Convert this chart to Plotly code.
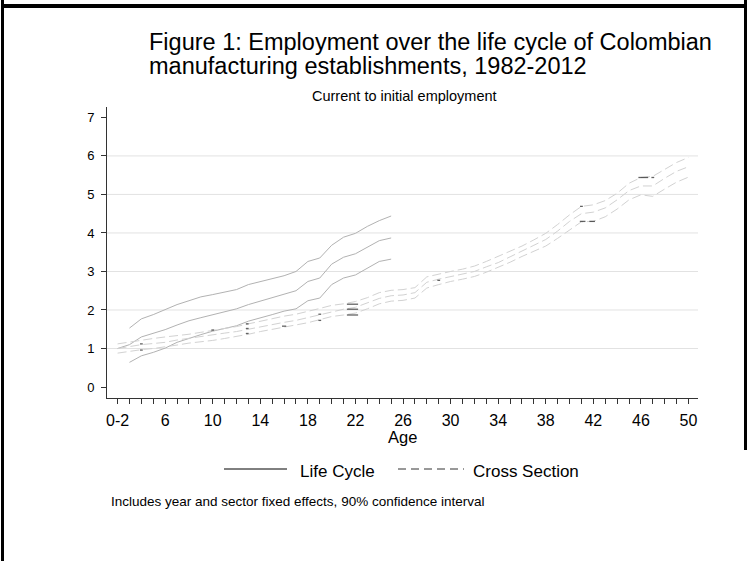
import plotly.graph_objects as go

# ---------------- data ----------------
ages_lc = list(range(2, 26))
lc_mid = [1.00, 1.10, 1.30, 1.39, 1.49, 1.61, 1.72, 1.80, 1.87, 1.96, 2.03, 2.14,
          2.23, 2.31, 2.40, 2.50, 2.74, 2.83, 3.19, 3.37, 3.46, 3.63, 3.80, 3.87]
lc_upper = [None, 1.53, 1.77, 1.88, 2.01, 2.14, 2.24, 2.34, 2.40, 2.46, 2.53, 2.66,
            2.74, 2.81, 2.89, 3.00, 3.26, 3.35, 3.68, 3.89, 3.99, 4.17, 4.32, 4.44]
lc_lower = [None, 0.64, 0.81, 0.90, 1.01, 1.16, 1.27, 1.36, 1.45, 1.53, 1.59, 1.71,
            1.79, 1.88, 1.97, 2.03, 2.24, 2.31, 2.66, 2.83, 2.91, 3.09, 3.26, 3.32]

ages_cs = list(range(2, 51))
cs_mid = [1.00, 1.05, 1.10, 1.13, 1.16, 1.22, 1.27, 1.30, 1.35, 1.40, 1.44, 1.50,
          1.57, 1.63, 1.68, 1.73, 1.80, 1.88, 1.96, 2.02, 2.07, 2.18, 2.30, 2.37,
          2.39, 2.45, 2.72, 2.80, 2.87, 2.93, 3.00, 3.12, 3.23, 3.38, 3.52, 3.68,
          3.83, 4.05, 4.30, 4.50, 4.54, 4.65, 4.86, 5.10, 5.22, 5.22, 5.42, 5.60, 5.72]
cs_upper = [1.12, 1.17, 1.22, 1.26, 1.30, 1.33, 1.37, 1.42, 1.47, 1.52, 1.57, 1.64,
            1.71, 1.78, 1.84, 1.89, 1.96, 2.04, 2.12, 2.16, 2.22, 2.32, 2.45, 2.51,
            2.53, 2.58, 2.86, 2.94, 3.00, 3.06, 3.14, 3.26, 3.39, 3.52, 3.66, 3.82,
            3.99, 4.22, 4.47, 4.69, 4.73, 4.84, 5.03, 5.29, 5.44, 5.47, 5.66, 5.83, 5.96]
cs_lower = [0.88, 0.93, 0.97, 1.00, 1.04, 1.09, 1.14, 1.17, 1.21, 1.26, 1.31, 1.37,
            1.44, 1.50, 1.55, 1.60, 1.67, 1.75, 1.83, 1.87, 1.92, 2.03, 2.16, 2.23,
            2.25, 2.31, 2.57, 2.66, 2.74, 2.80, 2.87, 2.98, 3.10, 3.24, 3.39, 3.52,
            3.66, 3.86, 4.08, 4.29, 4.30, 4.42, 4.62, 4.86, 4.99, 4.95, 5.14, 5.32, 5.45]

# small dark rendering marks visible on the lines in the original
mark_x = [4.0, 4.0, 10.0, 12.9, 12.9, 12.9, 16.0, 19.0, 19.0, 21.75, 21.75, 21.75,
          29.0, 41.0, 41.1, 41.9, 46.2, 47.0]
mark_y = [1.12, 0.96, 1.48, 1.64, 1.52, 1.39, 1.58, 1.89, 1.73, 2.15, 2.02, 1.87,
          2.77, 4.69, 4.30, 4.30, 5.44, 5.44]
mark_len = [2, 2, 2, 2, 2, 2, 3, 2, 2, 8, 8, 8, 2, 2, 4, 4, 7, 2]

tick_vals = list(range(2, 51))
tick_labels = {2: "0-2", 6: "6", 10: "10", 14: "14", 18: "18", 22: "22", 26: "26",
               30: "30", 34: "34", 38: "38", 42: "42", 46: "46", 50: "50"}
y_ticks = list(range(0, 8))
grid_vals = [1, 2, 3, 4, 5, 6]

# ---------------- layout helpers ----------------
W_PX, H_PX = 748, 561
L, R, T, B = 107, 698, 107, 398
PW, PH = R - L, B - T


def px2x(px):
    return (px - L) / PW


def py2y(py):
    return (B - py) / PH


FONT = "Liberation Sans, Arial, Helvetica, sans-serif"
LC_COLOR = "#b2b2b2"
CS_COLOR = "#d2d2d2"
CS_DASH = "9px,4px"

fig = go.Figure()

for ys in (lc_upper, lc_mid, lc_lower):
    fig.add_trace(go.Scatter(x=ages_lc, y=ys, mode="lines",
                             line=dict(color=LC_COLOR, width=1),
                             showlegend=False, hoverinfo="skip"))
for ys in (cs_upper, cs_mid, cs_lower):
    fig.add_trace(go.Scatter(x=ages_cs, y=ys, mode="lines",
                             line=dict(color=CS_COLOR, width=1, dash=CS_DASH),
                             showlegend=False, hoverinfo="skip"))
fig.add_trace(go.Scatter(x=mark_x, y=mark_y, mode="markers",
                         marker=dict(symbol="line-ew", size=mark_len,
                                     line=dict(color="#222222", width=1.3)),
                         showlegend=False, hoverinfo="skip"))

shapes = []
# gridlines
for g in grid_vals:
    shapes.append(dict(type="line", xref="paper", yref="y", x0=0, x1=1, y0=g, y1=g,
                       line=dict(color="#e2e2e2", width=1), layer="below"))


def frame_bar(x0, y0, x1, y1):
    return dict(type="rect", xref="paper", yref="paper",
                x0=px2x(x0), x1=px2x(x1), y0=py2y(y0), y1=py2y(y1),
                fillcolor="black", line=dict(width=0), layer="above")


# frame of the page
shapes.append(frame_bar(1, 0, 4, 561))
shapes.append(frame_bar(1, 4, 747, 8))
shapes.append(frame_bar(744, 0, 747, 450))
# legend keys
shapes.append(dict(type="line", xref="paper", yref="paper",
                   x0=px2x(224), x1=px2x(287), y0=py2y(469), y1=py2y(469),
                   line=dict(color="black", width=1)))
shapes.append(dict(type="line", xref="paper", yref="paper",
                   x0=px2x(398), x1=px2x(464), y0=py2y(469), y1=py2y(469),
                   line=dict(color="#333333", width=1, dash="8px,5px")))

annotations = [
    dict(text="Figure 1: Employment over the life cycle of Colombian",
         x=px2x(147), y=py2y(42), xref="paper", yref="paper",
         xanchor="left", yanchor="middle", showarrow=False,
         font=dict(family=FONT, size=23.5, color="black")),
    dict(text="manufacturing establishments, 1982-2012",
         x=px2x(147), y=py2y(66), xref="paper", yref="paper",
         xanchor="left", yanchor="middle", showarrow=False,
         font=dict(family=FONT, size=23.5, color="black")),
    dict(text="Current to initial employment",
         x=px2x(404), y=py2y(96), xref="paper", yref="paper",
         xanchor="center", yanchor="middle", showarrow=False,
         font=dict(family=FONT, size=14.5, color="black")),
    dict(text="Age",
         x=px2x(402), y=py2y(437), xref="paper", yref="paper",
         xanchor="center", yanchor="middle", showarrow=False,
         font=dict(family=FONT, size=16.5, color="black")),
    dict(text="Life Cycle",
         x=px2x(298), y=py2y(471), xref="paper", yref="paper",
         xanchor="left", yanchor="middle", showarrow=False,
         font=dict(family=FONT, size=17, color="black")),
    dict(text="Cross Section",
         x=px2x(471), y=py2y(471), xref="paper", yref="paper",
         xanchor="left", yanchor="middle", showarrow=False,
         font=dict(family=FONT, size=17, color="black")),
    dict(text="Includes year and sector fixed effects, 90% confidence interval",
         x=px2x(109), y=py2y(501), xref="paper", yref="paper",
         xanchor="left", yanchor="middle", showarrow=False,
         font=dict(family=FONT, size=13.5, color="black")),
]

fig.update_layout(
    width=W_PX, height=H_PX,
    margin=dict(l=L, r=W_PX - R, t=T, b=H_PX - B, pad=0),
    paper_bgcolor="white", plot_bgcolor="white",
    showlegend=False,
    shapes=shapes, annotations=annotations,
    font=dict(family=FONT, color="black"),
    xaxis=dict(range=[1.11, 50.8], tickmode="array", tickvals=tick_vals,
               ticktext=[tick_labels.get(v, "") for v in tick_vals],
               ticks="outside", ticklen=5, tickwidth=1, tickcolor="#333333",
               showline=True, linecolor="#333333", linewidth=1,
               showgrid=False, zeroline=False,
               tickfont=dict(family=FONT, size=16, color="black"),
               ticklabelstandoff=3),
    yaxis=dict(range=[-0.285, 7.27], tickmode="array", tickvals=y_ticks,
               ticks="outside", ticklen=5, tickwidth=1, tickcolor="#333333",
               showline=True, linecolor="#333333", linewidth=1,
               showgrid=False, zeroline=False,
               tickfont=dict(family=FONT, size=13, color="black"),
               ticklabelstandoff=4),
)

fig.write_html("out.html", config={"displayModeBar": False})
